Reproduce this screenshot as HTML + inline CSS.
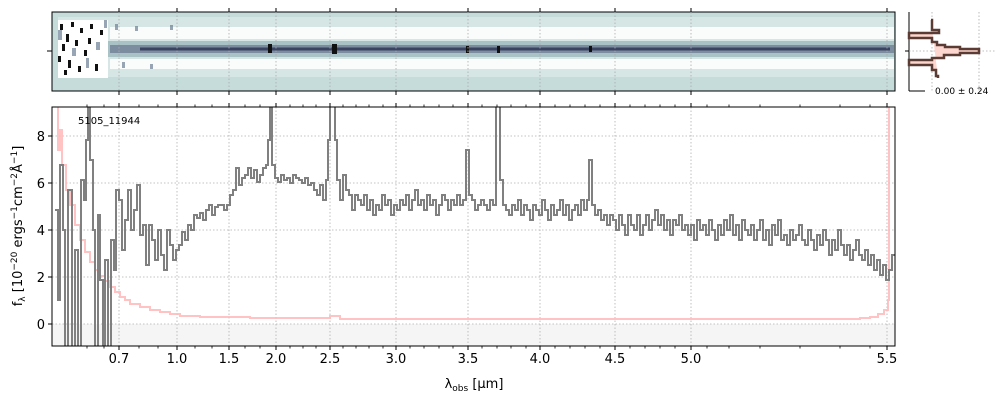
<!DOCTYPE html>
<html><head><meta charset="utf-8"><style>
body{margin:0;background:#fff;width:1000px;height:400px;overflow:hidden}
svg text{font-family:"DejaVu Sans","Liberation Sans",sans-serif}
</style></head><body>
<svg width="1000" height="400" xmlns="http://www.w3.org/2000/svg">
<rect x="52" y="12" width="843" height="79" fill="#c6dcdb"/>
<rect x="58" y="17" width="836" height="60" fill="#d6e6e5"/>
<rect x="110" y="27" width="784" height="12" fill="#ffffff" opacity="0.85"/>
<rect x="110" y="59" width="784" height="10" fill="#ffffff" opacity="0.85"/>
<rect x="100" y="41" width="794" height="16" fill="#a9c2c6"/>
<rect x="110" y="45" width="784" height="8" fill="#7d8da0"/>
<rect x="140" y="47.5" width="750" height="3" fill="#3a4460"/>
<rect x="58" y="20" width="50" height="58" fill="#ffffff"/>
<g fill="#111">
<rect x="60" y="24" width="3" height="6"/><rect x="66" y="34" width="3" height="8"/><rect x="71" y="22" width="3" height="5"/><rect x="62" y="44" width="3" height="7"/><rect x="75" y="40" width="3" height="6"/><rect x="80" y="28" width="3" height="5"/><rect x="58" y="56" width="3" height="6"/><rect x="68" y="60" width="3" height="8"/><rect x="84" y="50" width="3" height="6"/><rect x="90" y="24" width="3" height="5"/><rect x="95" y="64" width="3" height="7"/><rect x="78" y="66" width="3" height="6"/><rect x="88" y="38" width="3" height="6"/><rect x="100" y="30" width="3" height="5"/><rect x="64" y="70" width="3" height="5"/>
<rect x="268" y="44" width="4" height="9"/><rect x="332" y="44" width="5" height="10"/><rect x="466" y="46" width="3" height="7"/><rect x="497" y="46" width="3" height="7"/><rect x="589" y="46" width="3" height="6"/>
</g>
<g fill="#6d7f95" opacity="0.7">
<rect x="58" y="30" width="4" height="10"/><rect x="72" y="48" width="4" height="8"/><rect x="86" y="58" width="3" height="10"/><rect x="96" y="42" width="4" height="8"/><rect x="104" y="20" width="3" height="8"/><rect x="115" y="24" width="3" height="6"/><rect x="122" y="62" width="3" height="6"/><rect x="135" y="26" width="3" height="5"/><rect x="150" y="64" width="3" height="5"/><rect x="170" y="25" width="3" height="5"/>
</g>
<rect x="52" y="12" width="843" height="79" fill="none" stroke="#000"/>
<g stroke="#aaa" stroke-dasharray="1.5,2" stroke-width="0.8">
<line x1="119" y1="12" x2="119" y2="91"/><line x1="177" y1="12" x2="177" y2="91"/><line x1="229" y1="12" x2="229" y2="91"/><line x1="276" y1="12" x2="276" y2="91"/><line x1="330" y1="12" x2="330" y2="91"/><line x1="396" y1="12" x2="396" y2="91"/><line x1="468" y1="12" x2="468" y2="91"/><line x1="540" y1="12" x2="540" y2="91"/><line x1="615" y1="12" x2="615" y2="91"/><line x1="691" y1="12" x2="691" y2="91"/><line x1="887" y1="12" x2="887" y2="91"/>
</g>
<line x1="47" y1="51" x2="52" y2="51" stroke="#000"/>
<rect x="52" y="324" width="843" height="22" fill="#f5f5f5"/>
<g stroke="#b0b0b0" stroke-dasharray="1.5,2" stroke-width="0.8">
<line x1="52" y1="324" x2="895" y2="324"/><line x1="52" y1="277" x2="895" y2="277"/><line x1="52" y1="230" x2="895" y2="230"/><line x1="52" y1="183" x2="895" y2="183"/><line x1="52" y1="136" x2="895" y2="136"/>
<line x1="119" y1="107" x2="119" y2="346"/><line x1="177" y1="107" x2="177" y2="346"/><line x1="229" y1="107" x2="229" y2="346"/><line x1="276" y1="107" x2="276" y2="346"/><line x1="330" y1="107" x2="330" y2="346"/><line x1="396" y1="107" x2="396" y2="346"/><line x1="468" y1="107" x2="468" y2="346"/><line x1="540" y1="107" x2="540" y2="346"/><line x1="615" y1="107" x2="615" y2="346"/><line x1="691" y1="107" x2="691" y2="346"/><line x1="887" y1="107" x2="887" y2="346"/>
</g>
<defs><clipPath id="c"><rect x="52" y="107" width="843" height="239"/></clipPath></defs>
<g clip-path="url(#c)">
<path fill="none" stroke="#ffb8b8" stroke-width="2" opacity="0.85" d="M55,100 H58 V150 H60 V130 H62 V165 H66 V190 H70 V205 H75 V225 H80 V240 H85 V252 H90 V262 H95 V270 H100 V276 H105 V281 H110 V287 H115 V292 H120 V297 H125 V300 H130 V304 H140 V307 H150 V310 H160 V312 H170 V314 H180 V316 H200 V317 H250 V318 H330 V316 H340 V319 H860 V318 H870 V317 H878 V314 H884 V310 H888 V300 H889 V100"/>
<path fill="none" stroke="#808080" stroke-width="2" d="M55,210 H58 V300 H60 V165 H63 V230 H65 V400 H68 V190 H72 V350 H75 V250 H78 V400 H81 V180 H84 V200 H86 V140 H88 V100 H90 V160 H93 V230 H95 V400 H98 V215 H100 V280 H103 V400 H105 V260 H108 V400 H111 V240 H114 V270 H116 V190 H119 V200 H122 V250 H125 V220 H128 V190 H131 V230 H134 V210 H137 V185 H140 V235 H143 V225 H146 V265 H149 V225 H152 V240 H155 V260 H158 V230 H161 V255 H164 V270 H167 V230 H170 V245 H173 V260 H176 V250 H179 V245 H182 V232 H185 V240 H188 V225 H191 V230 H194 V215 H197 V218 H200 V213 H203 V220 H206 V210 H209 V205 H212 V215 H215 V207 H218 V205 H221 V205 H224 V210 H227 V205 H230 V195 H233 V190 H236 V168 H239 V185 H242 V178 H245 V175 H248 V168 H251 V178 H254 V170 H257 V182 H260 V175 H263 V168 H266 V165 H268 V140 H270 V100 H272 V165 H275 V178 H278 V182 H281 V175 H284 V180 H287 V178 H290 V183 H293 V175 H296 V178 H299 V180 H302 V183 H305 V178 H308 V185 H311 V183 H314 V190 H317 V195 H320 V185 H323 V200 H326 V180 H328 V140 H330 V100 H333 V100 H335 V140 H337 V180 H340 V200 H343 V175 H346 V190 H349 V195 H352 V210 H355 V195 H358 V200 H361 V205 H364 V195 H367 V210 H370 V200 H373 V215 H376 V205 H379 V210 H382 V195 H385 V205 H388 V200 H391 V215 H394 V205 H397 V210 H400 V200 H403 V205 H406 V195 H409 V210 H412 V200 H415 V190 H418 V205 H421 V200 H424 V210 H427 V195 H430 V205 H433 V200 H436 V215 H439 V205 H442 V195 H445 V200 H448 V210 H451 V200 H454 V205 H457 V195 H460 V205 H463 V200 H466 V150 H469 V195 H472 V200 H475 V210 H478 V205 H481 V200 H484 V205 H487 V210 H490 V200 H493 V205 H496 V100 H500 V180 H503 V205 H506 V210 H509 V215 H512 V205 H515 V210 H518 V200 H521 V215 H524 V205 H527 V210 H530 V220 H533 V205 H536 V210 H539 V215 H542 V200 H545 V210 H548 V220 H551 V205 H554 V215 H557 V210 H560 V200 H563 V215 H566 V205 H569 V220 H572 V210 H575 V205 H578 V215 H581 V200 H584 V210 H587 V200 H589 V160 H592 V205 H595 V215 H598 V210 H601 V220 H604 V215 H607 V225 H610 V215 H613 V220 H616 V230 H619 V215 H622 V225 H625 V235 H628 V215 H631 V225 H634 V230 H637 V215 H640 V235 H643 V225 H646 V215 H649 V230 H652 V220 H655 V210 H658 V225 H661 V215 H664 V230 H667 V220 H670 V235 H673 V220 H676 V225 H679 V215 H682 V230 H685 V225 H688 V235 H691 V225 H694 V240 H697 V220 H700 V230 H703 V225 H706 V235 H709 V220 H712 V230 H715 V240 H718 V225 H721 V235 H724 V220 H727 V230 H730 V215 H733 V235 H736 V225 H739 V240 H742 V220 H745 V230 H748 V235 H751 V225 H754 V240 H757 V230 H760 V220 H763 V240 H766 V230 H769 V245 H772 V225 H775 V235 H778 V220 H781 V240 H784 V235 H787 V245 H790 V230 H793 V240 H796 V235 H799 V225 H802 V240 H805 V245 H808 V230 H811 V240 H814 V250 H817 V235 H820 V245 H823 V230 H826 V240 H829 V255 H832 V240 H835 V250 H838 V230 H841 V245 H844 V255 H847 V245 H850 V260 H853 V250 H856 V240 H859 V255 H862 V260 H865 V250 H868 V265 H871 V255 H874 V270 H877 V260 H880 V275 H883 V265 H886 V280 H889 V270 H892 V255 H895"/>
</g>
<rect x="52" y="107" width="843" height="239" fill="none" stroke="#000"/>
<g stroke="#000">
<path d="M119,346v4M177,346v4M229,346v4M276,346v4M330,346v4M396,346v4M468,346v4M540,346v4M615,346v4M691,346v4M887,346v4M119,107v-4M177,107v-4M229,107v-4M276,107v-4M330,107v-4M396,107v-4M468,107v-4M540,107v-4M615,107v-4M691,107v-4M887,107v-4M119,12v-4M177,12v-4M229,12v-4M276,12v-4M330,12v-4M396,12v-4M468,12v-4M540,12v-4M615,12v-4M691,12v-4M887,12v-4M119,91v4M177,91v4M229,91v4M276,91v4M330,91v4M396,91v4M468,91v4M540,91v4M615,91v4M691,91v4M887,91v4M48,324h4M48,277h4M48,230h4M48,183h4M48,136h4"/>
<path stroke-width="0.8" d="M87,346v2.5M104,346v2.5M139,346v2.5M158,346v2.5M195,346v2.5M212,346v2.5M245,346v2.5M260,346v2.5M290,346v2.5M303,346v2.5M316,346v2.5M343,346v2.5M356,346v2.5M369,346v2.5M383,346v2.5M410,346v2.5M424,346v2.5M439,346v2.5M453,346v2.5M482,346v2.5M497,346v2.5M511,346v2.5M526,346v2.5M555,346v2.5M570,346v2.5M585,346v2.5M600,346v2.5M630,346v2.5M645,346v2.5M660,346v2.5M675,346v2.5M707,346v2.5M729,346v2.5M760,346v2.5M800,346v2.5M840,346v2.5M870,346v2.5M87,107v-2.5M104,107v-2.5M139,107v-2.5M158,107v-2.5M195,107v-2.5M212,107v-2.5M245,107v-2.5M260,107v-2.5M290,107v-2.5M303,107v-2.5M316,107v-2.5M343,107v-2.5M356,107v-2.5M369,107v-2.5M383,107v-2.5M410,107v-2.5M424,107v-2.5M439,107v-2.5M453,107v-2.5M482,107v-2.5M497,107v-2.5M511,107v-2.5M526,107v-2.5M555,107v-2.5M570,107v-2.5M585,107v-2.5M600,107v-2.5M630,107v-2.5M645,107v-2.5M660,107v-2.5M675,107v-2.5M707,107v-2.5M729,107v-2.5M760,107v-2.5M800,107v-2.5M840,107v-2.5M870,107v-2.5"/>
</g>
<g font-size="13" text-anchor="end" fill="#000">
<text x="45" y="329">0</text><text x="45" y="282">2</text><text x="45" y="235">4</text><text x="45" y="188">6</text><text x="45" y="141">8</text>
</g>
<g font-size="13" text-anchor="middle" fill="#000">
<text x="119" y="363">0.7</text><text x="177" y="363">1.0</text><text x="229" y="363">1.5</text><text x="276" y="363">2.0</text><text x="330" y="363">2.5</text><text x="396" y="363">3.0</text><text x="468" y="363">3.5</text><text x="540" y="363">4.0</text><text x="615" y="363">4.5</text><text x="691" y="363">5.0</text><text x="887" y="363">5.5</text>
</g>
<text x="474" y="388" font-size="13" text-anchor="middle">λ<tspan font-size="9" dy="3">obs</tspan><tspan dy="-3"> [μm]</tspan></text>
<text transform="translate(22,226) rotate(-90)" font-size="13" text-anchor="middle">f<tspan font-size="9" dy="3">λ</tspan><tspan dy="-3"> [10</tspan><tspan font-size="9" dy="-5">−20</tspan><tspan dy="5"> ergs</tspan><tspan font-size="9" dy="-5">−1</tspan><tspan dy="5">cm</tspan><tspan font-size="9" dy="-5">−2</tspan><tspan dy="5">Å</tspan><tspan font-size="9" dy="-5">−1</tspan><tspan dy="5">]</tspan></text>
<text x="78" y="124" font-size="10">5105_11944</text>
<line x1="909" y1="12" x2="909" y2="91" stroke="#000"/><line x1="909" y1="91" x2="925" y2="91" stroke="#000"/>
<line x1="905" y1="51" x2="909" y2="51" stroke="#000"/>
<line x1="932" y1="12" x2="932" y2="91" stroke="#aaa" stroke-dasharray="1.5,2" stroke-width="0.8"/>
<line x1="979" y1="12" x2="979" y2="91" stroke="#aaa" stroke-dasharray="1.5,2" stroke-width="0.8"/>
<line x1="909" y1="51" x2="995" y2="51" stroke="#aaa" stroke-dasharray="1.5,2" stroke-width="0.8"/>
<path d="M931,20 L932,20 L932,30 L939,30 L939,33 L909,33 L909,38 L932,38 L932,42 L937,42 L937,45 L945,45 L945,47 L960,47 L960,49 L979,49 L979,53 L960,53 L960,55 L944,55 L944,58 L932,58 L932,60 L909,60 L909,65 L932,65 L932,70 L936,70 L936,76 L938,76 L938,78" fill="#fdd6cf" stroke="#5a3c34" stroke-width="2.5"/>
<text x="935" y="94" font-size="9">0.00 ± 0.24</text>
</svg>
</body></html>
